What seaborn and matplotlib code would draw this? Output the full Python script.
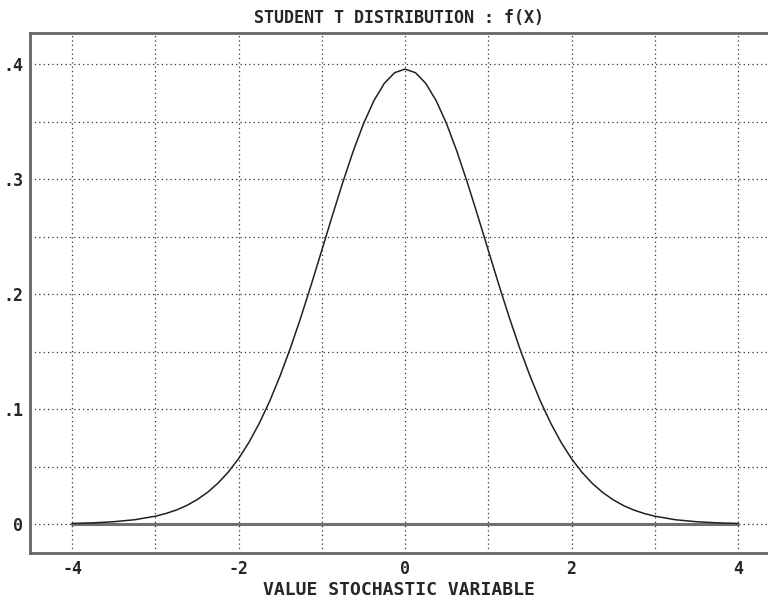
import matplotlib
matplotlib.use("Agg")
import matplotlib.pyplot as plt
import seaborn as sns
import pandas as pd

# values
x_vals = [-4.0, -3.75, -3.5, -3.25, -3.0, -2.875, -2.75, -2.625, -2.5, -2.375, -2.25, -2.125,
          -2.0, -1.875, -1.75, -1.625, -1.5, -1.375, -1.25, -1.125, -1.0, -0.875, -0.75,
          -0.625, -0.5, -0.375, -0.25, -0.125, 0.0, 0.125, 0.25, 0.375, 0.5, 0.625, 0.75,
          0.875, 1.0, 1.125, 1.25, 1.375, 1.5, 1.625, 1.75, 1.875, 2.0, 2.125, 2.25, 2.375,
          2.5, 2.625, 2.75, 2.875, 3.0, 3.25, 3.5, 3.75, 4.0]
f_vals = [0.0005, 0.0010, 0.0020, 0.0037, 0.0068, 0.0091, 0.0121, 0.0160, 0.0211, 0.0274,
          0.0353, 0.0450, 0.0568, 0.0710, 0.0877, 0.1070, 0.1290, 0.1534, 0.1801, 0.2085,
          0.2380, 0.2677, 0.2966, 0.3237, 0.3479, 0.3680, 0.3831, 0.3925, 0.3956, 0.3925,
          0.3831, 0.3680, 0.3479, 0.3237, 0.2966, 0.2677, 0.2380, 0.2085, 0.1801, 0.1534,
          0.1290, 0.1070, 0.0877, 0.0710, 0.0568, 0.0450, 0.0353, 0.0274, 0.0211, 0.0160,
          0.0121, 0.0091, 0.0068, 0.0037, 0.0020, 0.0010, 0.0005]
x_ticks = [-4, -3, -2, -1, 0, 1, 2, 3, 4]
x_tick_labels = ["-4", "", "-2", "", "0", "", "2", "", "4"]
y_ticks = [0.0, 0.05, 0.1, 0.15, 0.2, 0.25, 0.3, 0.35, 0.4]
y_tick_labels = ["0", "", ".1", "", ".2", "", ".3", "", ".4"]
title = "STUDENT T DISTRIBUTION : f(X)"
xlabel = "VALUE STOCHASTIC VARIABLE"

sns.set_style("white")
plt.rcParams["font.family"] = ["DejaVu Sans Mono"]

df = pd.DataFrame({"x": x_vals, "f": f_vals})

fig = plt.figure(figsize=(7.68, 5.98), dpi=100)
ax = fig.add_axes([30 / 768, 45 / 598, 1 - 30 / 768, 520 / 598])

# baseline
ax.plot([x_vals[0], x_vals[-1]], [0, 0], color="#707070", lw=2.2, zorder=3)
sns.lineplot(data=df, x="x", y="f", ax=ax, color="#202020", lw=1.1, zorder=4)

ax.set_xlim(-4.505, 4.36)
ax.set_ylim(-0.0252, 0.427)
ax.set_xticks(x_ticks)
ax.set_xticklabels(x_tick_labels)
ax.set_yticks(y_ticks)
ax.set_yticklabels(y_tick_labels)
ax.grid(True, linestyle=(0, (1, 2.5)), color="#333333", lw=0.9)
ax.tick_params(length=0, labelsize=12, pad=5)
for lab in ax.get_xticklabels() + ax.get_yticklabels():
    lab.set_fontweight("bold")

ax.set_xlabel(xlabel, fontsize=13, fontweight="bold", labelpad=2)
ax.set_ylabel("")
ax.set_title(title, fontsize=12, fontweight="bold", pad=7)

for side in ["left", "bottom", "top"]:
    ax.spines[side].set_color("#666666")
    ax.spines[side].set_linewidth(2)
ax.spines["right"].set_visible(False)

fig.savefig("out.png", dpi=100)
